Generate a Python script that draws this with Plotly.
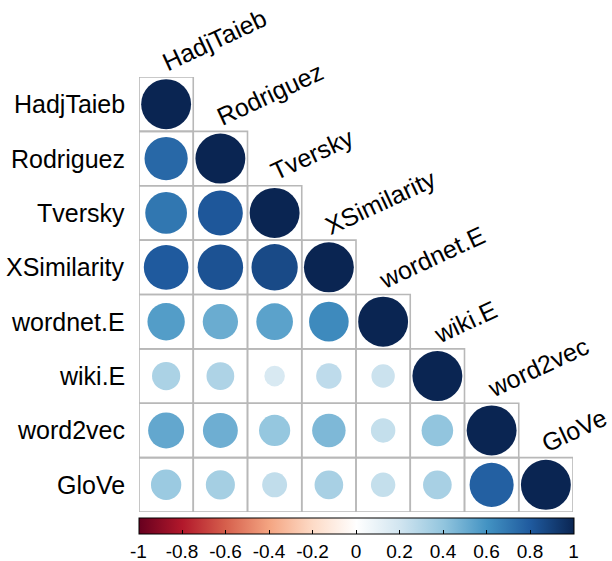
import plotly.graph_objects as go
from plotly.colors import sample_colorscale

# Measures compared in the correlation matrix
labels = ["HadjTaieb", "Rodriguez", "Tversky", "XSimilarity",
          "wordnet.E", "wiki.E", "word2vec", "GloVe"]

# Lower-triangle correlations, one list per row (excluding the diagonal)
row_HadjTaieb = []
row_Rodriguez = [0.75]
row_Tversky = [0.70, 0.81]
row_XSimilarity = [0.80, 0.83, 0.86]
row_wordnetE = [0.56, 0.50, 0.54, 0.63]
row_wikiE = [0.32, 0.31, 0.17, 0.26, 0.22]
row_word2vec = [0.52, 0.49, 0.39, 0.45, 0.24, 0.40]
row_GloVe = [0.37, 0.34, 0.25, 0.33, 0.24, 0.33, 0.78]

lower_rows = [row_HadjTaieb, row_Rodriguez, row_Tversky, row_XSimilarity,
              row_wordnetE, row_wikiE, row_word2vec, row_GloVe]

# Colour bar ticks
cbar_ticks = [-1, -0.8, -0.6, -0.4, -0.2, 0, 0.2, 0.4, 0.6, 0.8, 1]
cbar_ticktext = ["-1", "-0.8", "-0.6", "-0.4", "-0.2", "0", "0.2", "0.4", "0.6", "0.8", "1"]

# Diverging red-blue palette, -1 .. 1
rdbu = ["#67001F", "#B2182B", "#D6604D", "#F4A582", "#FDDBC7", "#FFFFFF",
        "#D1E5F0", "#92C5DE", "#4393C3", "#1F5A9E", "#0A2552"]
colorscale = [[i / (len(rdbu) - 1), c] for i, c in enumerate(rdbu)]

FONT = "Liberation Sans, Arial, Helvetica, sans-serif"
GRID = "#B8B8B8"
MAX_R = 0.46  # circle radius (cell units) for |r| = 1

n = len(labels)
shapes = []
annotations = []

for i in range(n):
    values = lower_rows[i] + [1.0]  # include the diagonal
    for j, v in enumerate(values):
        cx, cy = j + 1, i + 1
        # cell border
        shapes.append(dict(type="rect", xref="x", yref="y",
                           x0=cx - 0.5, x1=cx + 0.5, y0=cy - 0.5, y1=cy + 0.5,
                           line=dict(color=GRID, width=1.6), fillcolor="rgba(0,0,0,0)",
                           layer="below"))
        # circle: area proportional to |r|
        rad = MAX_R * abs(v) ** 0.5
        col = sample_colorscale(colorscale, [(v + 1) / 2])[0]
        shapes.append(dict(type="circle", xref="x", yref="y",
                           x0=cx - rad, x1=cx + rad, y0=cy - rad, y1=cy + rad,
                           fillcolor=col, line=dict(width=0), layer="above"))

# Row labels on the left
for i, name in enumerate(labels):
    annotations.append(dict(x=0, xref="paper", y=i + 1, yref="y", text=name,
                            showarrow=False, xanchor="right", yanchor="middle",
                            xshift=-12, font=dict(family=FONT, size=25, color="black")))

# Slanted column labels above the diagonal
for j, name in enumerate(labels):
    annotations.append(dict(x=j + 1, xref="x", y=j + 0.5, yref="y", text=name,
                            showarrow=False, xanchor="left", yanchor="bottom",
                            textangle=-25, xshift=-11, yshift=-2,
                            font=dict(family=FONT, size=25, color="black")))

fig = go.Figure()

# Hidden trace carrying the colour bar
fig.add_trace(go.Scatter(
    x=[-10, -10], y=[-10, -10], mode="markers", hoverinfo="skip", showlegend=False,
    marker=dict(color=[-1, 1], cmin=-1, cmax=1, colorscale=colorscale, size=1,
                showscale=True,
                colorbar=dict(orientation="h", x=0.5, xanchor="center",
                              y=-6 / 435, yanchor="top", yref="paper",
                              len=435, lenmode="pixels", thickness=16,
                              xpad=0, ypad=0,
                              outlinecolor="black", outlinewidth=1,
                              tickvals=cbar_ticks, ticktext=cbar_ticktext,
                              ticks="inside", ticklen=4, tickcolor="black",
                              tickfont=dict(family=FONT, size=19, color="black")))))

fig.update_layout(
    width=612, height=561,
    margin=dict(l=139, r=39, t=77, b=49, autoexpand=False),
    paper_bgcolor="white", plot_bgcolor="white",
    xaxis=dict(range=[0.5, 8.5], visible=False, fixedrange=True),
    yaxis=dict(range=[8.5, 0.5], visible=False, fixedrange=True),
    shapes=shapes, annotations=annotations, showlegend=False,
)

fig.write_html("out.html")
